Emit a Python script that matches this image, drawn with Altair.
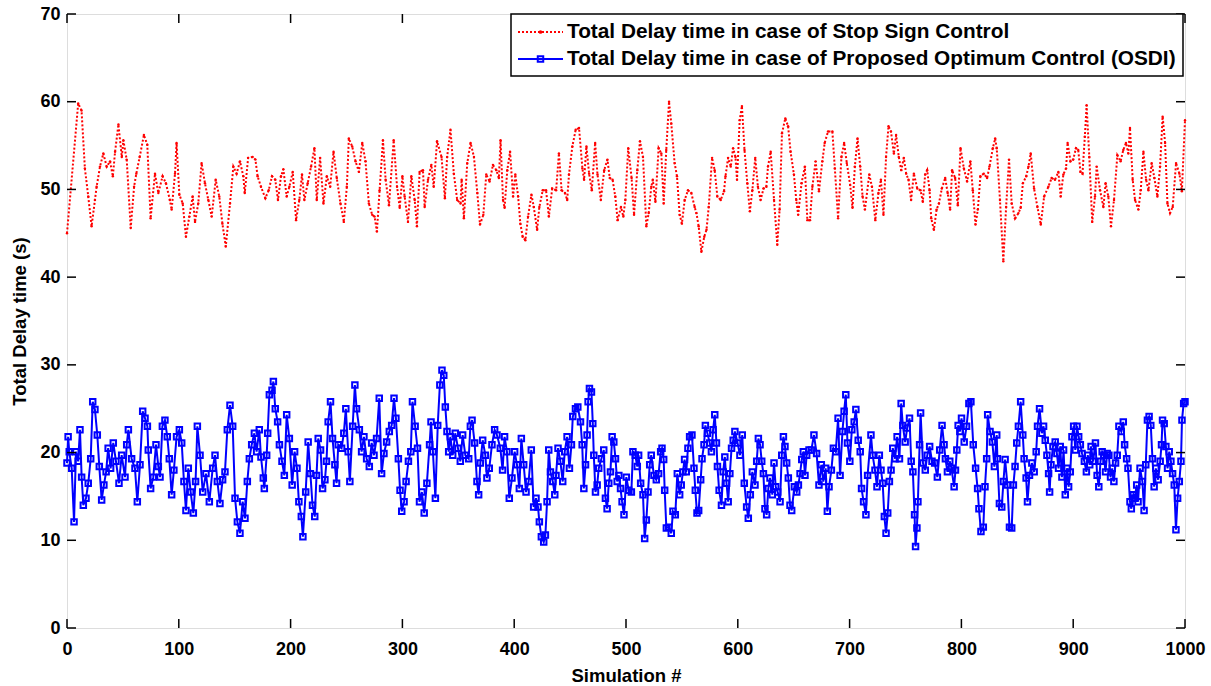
import altair as alt
import pandas as pd

# ---------------- data ----------------
red_points = [
(0,45.0),(10,59.8),(13,59.0),(16,52.4),(19,49.2),(22,45.8),(25,48.8),(26.5,50.3),(29.5,52.6),(32.5,54.1),(35.5,52.6),(38.5,53.2),(41,51.5),(43,54.3),(46,57.4),(49,53.7),(50.4,55.6),(53.4,53.4),(57,45.6),(60,50.3),(62,51.8),(65,53.7),(68.8,56.2),(71.8,55.1),(74.8,46.7),(78.7,51.8),(81.7,49.6),(85.5,51.5),(88.5,50.7),(92,48.8),(93.6,47.7),(96.6,51.8),(98,55.3),(100.5,49.4),(103.5,48.4),(106.4,44.6),(109.4,46.9),(112.4,49.2),(114.5,46.3),(117.4,48.4),(120.4,53.0),(123.4,50.7),(126.4,48.8),(129.4,46.9),(133,51.1),(136.2,49.2),(139,46.1),(142,43.5),(145.8,48.4),(148.8,52.6),(151.7,51.8),(154.7,53.2),(157.7,51.5),(159,49.6),(162,53.6),
(166,53.7),(168.5,53.4),(170.5,51.5),(173.5,50.3),(177.4,49.0),(180.4,49.9),(183.4,51.5),(186.3,51.1),(188.7,48.8),(191.4,51.5),(193.5,52.3),(196.5,49.2),(198.9,50.3),(201.9,52.0),(204.9,46.5),(207.8,48.8),(210.2,51.7),(212.3,48.8),(215.3,50.7),(218.3,52.6),(221.3,54.7),(223.4,48.8),(226.4,53.6),(229.4,48.4),(232.4,51.5),(235.4,50.3),(238.4,54.3),(241.3,51.3),(244.6,48.4),(247.6,46.3),(250.3,50.3),(252.1,55.8),(255.1,54.9),(258.1,53.2),(261.1,52.0),(264.1,55.3),(267,53.2),(270,48.4),(273,47.1),(275.1,46.9),(277.2,45.2),(279.6,49.9),(282.6,55.6),(285,51.1),(288,48.2),(292.2,55.6),(295.2,50.3),(297.6,47.9),(300,51.5),(302,49.2),(305,46.3),(308,51.5),(311,48.8),(313,45.8),(315.4,52.0),(318.4,52.2),(319.9,48.0),(322.9,51.1),(325.9,52.8),(328,50.3),(331,55.5),
(335,53.7),(338,49.0),(340,53.7),(343,56.8),(346,51.8),(349,48.8),(352,48.4),(353,51.1),(355,46.7),(358,53.0),(361,55.3),(364,53.7),(367,49.6),(369.4,46.0),(372.4,47.1),(375,51.7),(378,50.9),(381,52.8),(384,52.2),(386.3,51.3),(387.8,55.6),(390,48.8),(391.4,47.9),(393.8,52.2),(396.3,54.3),(399,49.2),(401,51.7),(403.5,49.2),(405.5,46.1),(407.6,44.6),(410,44.2),(412.4,46.9),(415.4,49.4),(417.5,48.0),(420.5,45.4),(422.5,48.0),(425.5,49.9),(428.5,49.9),(431,46.9),(434,50.1),(437.5,49.9),(440,54.1),(442.4,49.9),(445.4,49.6),(447.4,48.8),(449,51.7),(452,54.9),(455,56.8),(458,57.0),(461,52.4),(462.5,51.1),(464.6,54.9),(467,51.8),(469.4,49.9),(472.4,55.3),(474.5,51.7),(477.5,48.8),(480.5,52.2),(483.4,53.4),(485.5,51.3),(488,51.1),(490.4,49.2),(492.5,46.5),(495.5,48.0),(497.6,46.9),
(499.4,48.8),(502,54.7),(505,51.3),(507.2,47.1),(510.1,52.2),(512.5,55.5),(515.2,53.7),(518.2,45.8),(520.3,47.3),(522.6,50.3),(524,51.1),(526.3,48.6),(529.2,54.7),(531.6,54.1),(533.7,48.4),(536,54.5),(538.5,60.0),(540.5,57.5),(543.5,53.0),(545.6,51.5),(548,47.1),(550,46.1),(552.5,48.8),(555.4,49.9),(558.4,49.6),(561.4,48.0),(563,47.3),(565,45.8),(567.4,42.9),(570,44.6),(572,45.4),(574,48.0),(577,53.6),(579.3,52.2),(581.7,49.2),(584.7,48.8),(587.7,49.8),(589,51.5),(591.3,53.6),(593.7,52.6),(595.8,54.7),(597.9,53.7),(599.3,51.1),(601.7,57.9),(603.7,59.5),(606,54.5),(608.5,50.7),(610.8,47.5),(613,49.9),(615.6,53.6),(618,50.3),(620.4,48.8),(623,50.1),(625.5,50.3),(627,52.6),(629.4,54.3),(632.4,48.8),(635.3,43.7),(637.4,47.7),(639.5,56.4),(642.5,58.1),(645,57.2),(647.2,54.3),(650.2,51.7),(652.3,48.8),(654,47.1),(657,50.7),(660,52.6),(662.2,46.5),
(664.6,46.5),(666.7,50.3),(669.6,53.2),(672.6,49.8),(675.6,53.2),(677.7,55.3),(680.7,56.6),(684.6,56.6),(686.8,52.4),(689.7,46.7),(692.7,53.7),(695.1,55.3),(697.5,53.0),(700.5,50.5),(702.6,47.9),(704.7,52.6),(707.1,55.8),(709.5,52.6),(711.6,49.2),(713.7,47.7),(717.6,51.7),(720,50.3),(723,46.5),(725.8,49.6),(728,51.1),(730.3,47.1),(732.6,53.7),(734.8,57.2),(737,56.6),(739.6,54.1),(741.6,56.2),(744,53.7),(746.2,52.2),(748.5,53.6),(750.6,51.8),(752.7,51.1),(755,48.8),(757.5,51.8),(760.5,50.1),(763.4,49.9),(765.5,48.6),(767.6,51.7),(769.4,52.2),(771.5,49.9),(773,46.7),(775.4,45.4),(777.8,47.7),(779.9,48.4),(782.5,50.1),(785.5,51.3),(787.7,49.6),(789.9,47.7),(791.7,52.2),(794.4,51.3),(796.8,48.2),(799.2,54.7),(802.2,52.4),(805.1,50.9),(808,53.2),(810.2,49.9),(812.6,46.0),(814.7,47.7),(817,51.5),(820,51.8),(823,51.3),(825.1,52.6),(828.1,54.7),(830.2,55.8),
(831.6,54.7),(834.5,48.8),(837.5,41.8),(840,48.0),(842.6,53.4),(845,48.4),(848,46.7),(851,47.3),(853,47.9),(855,50.7),(858,51.5),(860,52.6),(862,54.1),(865,50.1),(868,48.0),(871,46.0),(874,49.2),(877.8,50.3),(880.7,51.3),(883.7,51.1),(886.7,52.0),(888.8,49.2),(891.2,51.7),(893.6,52.4),(895,55.3),(897.6,53.2),(900,53.4),(902.5,54.7),(904.5,54.5),(906.5,52.0),(908.3,51.8),(910.4,56.0),(912,59.6),(914.4,53.7),(917,46.3),(919.5,49.2),(921,52.6),(924,49.9),(927,48.0),(929,50.7),(931.4,49.2),(933.8,45.8),(936.5,48.8),(939.5,53.9),(942.4,53.2),(944.8,54.5),(947.2,55.3),(949.3,54.1),(950.8,57.0),(953.2,51.1),(955.3,48.8),(958.3,47.7),(960.4,49.9),(962.8,54.3),(965.2,51.1),(967.3,49.9),(970.2,53.0),(972.6,51.3),(975.3,49.2),(977.7,52.6),(980,58.3),(982.2,55.3),(984.3,48.4),(986.6,47.3),(989,48.0),(992,53.0),(995,51.8),(997.2,49.8),(1000,57.9),
]

blue_points = [
(0,18.8),(1,21.8),(2,20.1),(4.2,18.2),(6.3,12.1),(8,20.1),(10,19.0),(11.6,22.6),(13.1,17.2),(14.6,14.0),(17,14.8),(19,16.5),(21.2,19.3),(23,25.8),(25,24.9),(27.1,22.0),(28.9,18.4),(31,14.6),(33,16.3),(35,17.8),(36.8,20.5),(39,18.2),(41.4,21.1),(43.8,19.0),(46.5,16.5),(48.9,19.7),(51.9,17.2),(53.4,20.9),(54.9,22.6),(57.8,19.3),(60.8,18.2),(62.9,14.4),(65.3,18.6),(67.7,24.7),(69.8,23.9),(71.9,23.0),(72.7,20.3),(74.8,15.9),(77.2,17.2),(79.6,20.9),(81.7,18.4),(83.2,17.2),(85.3,23.0),(87.6,23.7),(89.7,21.8),(91.5,19.3),(93.6,15.2),(95.6,18.0),(98,21.8),(100.5,22.6),(102.6,21.1),(104.6,16.7),(106.4,13.4),(108.5,18.2),(110.6,15.5),(113,13.1),(115,16.7),(116.6,23.0),(119,19.7),(121.4,15.5),(124.3,17.6),(127.3,14.4),(130.3,18.2),(132.4,19.7),(134.5,16.7),(136.8,14.2),(139.2,16.9),(141.3,17.8),(143.4,22.6),(145.8,25.4),(148.2,23.0),(150.3,14.8),(152.4,12.1),(154.7,10.8),(157.1,14.4),(159.2,12.5),(161.3,16.7),(163.1,19.3),(165.2,20.9),
(167.6,22.2),(169.6,20.1),(172,22.6),(173.5,19.5),(175.6,17.1),(176.5,15.9),(178.6,19.7),(179.5,22.2),(181,26.6),(183.4,27.1),(184.6,28.1),(186.3,25.0),(188.4,23.5),(190,20.9),(192.3,19.0),(194.4,17.4),(196.5,24.3),(198.9,21.6),(201.4,16.3),(203.6,20.1),(205.7,18.2),(207.4,14.4),(209.6,12.7),(211,10.4),(213.5,15.5),(215.7,21.2),(217.7,17.6),(219.6,14.0),(221.6,12.7),(223.2,17.4),(224.7,21.6),(226.8,20.3),(228.6,15.9),(230.7,16.9),(232.1,19.0),(233.6,23.5),(235.7,25.8),(237.5,21.6),(239.6,18.6),(241.1,16.5),(242.6,20.9),(245.6,20.5),(247.6,22.2),(249.4,25.0),(251.5,20.1),(253,16.7),(255.5,23.0),(257.5,27.7),(259,25.0),(261.5,22.6),(263.5,20.1),(265.6,21.8),(268,19.3),(270.4,18.4),(272.5,21.1),(274.6,19.7),(276.9,21.6),(279.3,26.2),(281.4,17.6),(283.5,19.9),(285.9,21.2),(288.3,22.4),(290.4,23.1),(292.5,26.2),(294.2,23.9),(296.4,19.3),(297.9,15.7),(299.4,13.3),(301.5,14.4),(303.3,16.7),(305.4,19.0),(307.5,20.1),(309,25.8),(311.4,23.0),(313.5,20.5),(315.3,14.4),(317.4,15.5),(319.5,13.1),(321.9,16.5),(324.3,20.9),(325.6,23.5),(327.3,20.1),(329.5,14.8),(331.6,23.1),
(333.5,27.7),(335.4,29.4),(337,28.8),(338.4,25.2),(339.9,22.4),(341.4,20.1),(342.9,21.8),(345,19.7),(347.3,22.2),(349.7,20.5),(351.8,19.0),(353.9,22.0),(356.3,19.7),(359.3,19.3),(360.8,23.0),(362.3,23.7),(364.6,21.1),(366.7,16.7),(368.2,15.2),(369.7,18.8),(371.8,21.4),(374.2,19.7),(375.6,17.1),(377.7,18.2),(380.1,20.9),(382.5,22.6),(384.6,22.0),(387.6,20.5),(389.6,18.0),(391.4,21.8),(393.5,20.1),(395.6,14.8),(398,17.1),(400.4,20.1),(402.5,18.6),(404.6,15.9),(406.4,21.6),(408.5,18.6),(410.6,15.5),(412.9,16.7),(415.3,20.3),(417.4,13.8),(419.5,14.8),(421.3,13.8),(422.5,12.1),(424.3,10.4),(426.4,9.8),(427.9,10.6),(429.4,14.4),(430.9,20.3),(432.4,17.8),(434.5,16.7),(436.3,15.2),(437.4,17.4),(439.2,20.5),(441.3,19.0),(443.4,16.7),(445.2,20.1),(447.3,21.8),(449.4,18.2),(451.2,20.9),(452.4,24.1),(454.8,25.0),(456.9,25.2),(459.3,23.5),(460.8,20.9),(462.3,15.9),(463.8,18.6),(465.2,22.0),(466.1,25.8),(467.3,27.3),(469.1,26.9),(470.3,23.3),(471.2,19.7),(472.7,15.5),(474.2,16.3),(475.6,18.2),(478,19.3),(480.1,20.3),(481.6,14.8),(483.1,13.6),(484.6,16.5),(486.1,17.8),(487.6,21.8),(489.1,21.2),(490.6,19.3),(492.1,16.7),(493.6,17.4),(495.1,15.9),(496.5,14.4),(498.2,12.9),
(500.3,17.2),(502.4,15.7),(504.8,15.5),(506.2,20.1),(508.3,19.7),(510.1,18.4),(511.3,19.7),(513.1,16.5),(515.2,15.2),(516.7,10.2),(518.2,12.3),(519.7,15.5),(521.2,18.6),(522.6,19.7),(525,17.4),(527.1,16.9),(529.2,17.6),(531,20.1),(532.2,20.5),(533.7,19.2),(534.6,15.7),(536.1,11.4),(538.2,11.5),(540.5,10.8),(542,13.3),(544.1,12.9),(545.9,17.6),(548,15.2),(549.4,16.3),(550.9,17.8),(552.4,19.2),(553.9,17.8),(555.4,20.5),(556.9,21.8),(559,22.0),(560.8,18.2),(562,15.7),(563.5,13.1),(565,13.4),(566.8,16.9),(568,19.3),(569.8,20.9),(571,23.1),(572.8,22.2),(574.9,21.1),(576.4,20.1),(577.9,22.6),(579.4,24.3),(580.9,21.1),(581.8,18.4),(583.3,15.7),(585.4,14.0),(586.9,17.8),(588.4,19.5),(589.9,16.5),(591.4,14.4),(592.9,17.6),(594.4,20.5),(595.9,21.4),(597.4,22.4),(599.8,21.1),(601.9,19.7),(604,22.0),(605.8,16.5),(607.9,13.8),(609.4,12.5),(611.2,15.2),(613,17.8),(615.4,16.3),(616.9,19.0),(618.4,21.6),(619.9,20.9),(621.4,19.0),(622.9,17.6),(624.3,13.6),(625.8,12.9),(627.3,15.9),(628.8,17.1),(630.9,15.2),(632.4,18.8),(633.9,16.1),(635.7,15.5),(637.8,14.4),(639.3,19.7),(640.8,21.8),(642.2,20.7),(643.7,18.8),(645.2,17.1),(646.7,14.0),(648.2,13.4),(650.6,16.1),(652.7,15.5),(654.2,16.3),(655.7,17.6),(657.2,19.2),(658.6,20.1),(660.1,17.4),(661.6,19.7),(663.7,20.3),
(665.8,20.3),(668.1,22.0),(670.5,19.9),(672.6,16.3),(674.7,18.6),(676.5,16.7),(678.6,18.2),(680.1,13.3),(681.6,16.1),(683.7,18.0),(685.5,20.5),(687.6,20.1),(689.7,23.9),(691.5,17.4),(693.6,22.4),(695.1,24.7),(696.6,26.6),(698.1,21.1),(700.2,19.0),(702,22.6),(704.1,23.5),(705.6,24.9),(707.7,21.4),(709.5,20.1),(710.7,15.9),(712.5,14.4),(714.6,12.9),(716.1,17.4),(719.1,22.0),(720.6,19.7),(722.7,18.0),(724.5,16.1),(726.6,19.7),(728.1,18.0),(729.6,16.5),(731.1,12.7),(732.6,10.8),(734.1,13.1),(735.6,16.7),(737.1,18.0),(738.6,20.5),(740.7,19.3),(742.5,21.8),(744.6,19.3),(746.1,25.6),(747.6,23.1),(749.7,21.2),(751.5,22.8),(753.6,23.9),(755.1,19.0),(756.6,17.8),(758.1,12.9),(759,9.3),(760.2,11.4),(761.1,14.4),(762.6,20.9),(763.5,24.5),(765.6,18.8),(767.7,18.0),(769.5,19.7),(771.6,20.7),(773.7,19.0),(776.1,18.8),(778.5,17.2),(780.6,20.3),(782.7,23.1),(784.5,20.9),(785.7,19.3),(787.5,17.8),(789.6,19.0),(791.1,18.2),(793.5,16.1),(794.7,18.0),(795.9,20.3),(797.1,23.1),(798.6,22.4),(800.1,23.9),(802.5,21.2),(804.6,23.0),(806.7,25.6),(808.5,25.8),(810.6,20.9),(812.7,18.2),(814.5,15.9),(815.7,13.6),(817.5,11.0),(819.6,11.5),(821.1,16.1),(822.6,19.3),(823.5,24.3),(825.6,22.4),(827.7,21.2),(829.5,18.4),(831.6,22.0),
(832.2,19.3),(834,14.2),(836.1,13.8),(837.6,16.7),(839.1,19.2),(841.2,16.3),(843,11.5),(845,11.4),(846.5,16.3),(848,18.4),(849.5,21.1),(851,23.0),(853,25.8),(854.9,22.0),(856.1,19.3),(857.9,17.1),(859.1,14.4),(860.9,17.4),(863,18.8),(865.1,17.8),(866.9,20.1),(868.1,23.0),(869.9,25.0),(872,22.2),(873.5,23.0),(875,21.4),(876.5,19.7),(878,17.6),(878.9,15.5),(880.1,18.6),(881.9,20.7),(883.9,21.2),(885.4,19.9),(886.9,18.2),(888.4,20.7),(889.9,17.2),(891.4,20.3),(892.9,15.2),(894.4,18.2),(895.9,16.1),(897.4,17.8),(898.9,21.8),(900.4,23.0),(901.9,20.3),(903.4,23.0),(904.9,21.8),(906.4,20.9),(907.9,19.9),(910,19.0),(911.8,17.8),(913,19.7),(914.8,18.6),(916,20.7),(917.8,19.0),(919.9,21.1),(921.4,17.4),(922.9,16.1),(924.4,19.0),(925.9,20.1),(927.4,19.7),(928.9,17.8),(930.4,19.9),(931.9,19.7),(933.4,17.2),(934.9,18.2),(936.4,16.7),(937.9,18.8),(939.4,19.7),(940.9,23.0),(943,22.4),(944.8,23.5),(946,20.9),(947.8,19.3),(949,18.2),(950.8,14.4),(952,13.6),(953.8,15.2),(955,14.8),(956.8,16.3),(958,14.4),(959.8,18.2),(961.9,16.7),(963.4,13.4),(964.9,18.6),(966.4,23.7),(967.9,24.1),(969.4,23.1),(970.9,19.3),(972.4,16.1),(973.9,18.2),(976,16.9),(977.8,19.0),(979,20.9),(979.9,23.7),(981.4,23.3),(982.9,20.7),(984.4,18.2),(985.9,20.1),(987.4,19.0),(988.9,17.6),(990.4,16.3),(991.9,11.2),(993.4,14.8),(994.9,16.7),(996.4,19.0),(997.3,23.7),(998.8,25.6),(1000,25.8),
]

x_ticks = list(range(0, 1001, 100))
y_ticks = list(range(0, 71, 10))
legend_labels = [
    "Total Delay time in case of Stop Sign Control",
    "Total Delay time in case of Proposed Optimum Control (OSDI)",
]
x_title = "Simulation #"
y_title = "Total Delay time (s)"

# ---------------- chart ----------------
W, H = 1118, 614
FONT = "Liberation Sans"
RED = "#ff0000"
BLUE = "#0000ff"

red = pd.DataFrame(red_points, columns=["sim", "delay"])
blue = pd.DataFrame(blue_points, columns=["sim", "delay"])
xt = pd.DataFrame({"sim": x_ticks})
yt = pd.DataFrame({"delay": y_ticks})
one = pd.DataFrame({"k": [0]})

xs = alt.Scale(domain=[0, 1000], nice=False, zero=False)
ys = alt.Scale(domain=[0, 70], nice=False, zero=False)

x_axis = alt.Axis(values=x_ticks, format="d", ticks=False, domain=False, grid=False,
                  labelFont=FONT, labelFontSize=18, labelFontWeight="bold",
                  labelColor="black", labelPadding=12, labelFlush=False,
                  titleFont=FONT, titleFontSize=18.5,
                  titleFontWeight="bold", titleColor="black", titlePadding=8)
y_axis = alt.Axis(values=y_ticks, format="d", ticks=False, domain=False, grid=False,
                  labelFont=FONT, labelFontSize=18, labelFontWeight="bold",
                  labelColor="black", labelPadding=7, labelFlush=False,
                  titleFont=FONT, titleFontSize=18.5,
                  titleFontWeight="bold", titleColor="black", titlePadding=10)

X = alt.X("sim:Q", scale=xs, axis=x_axis, title=x_title)
Y = alt.Y("delay:Q", scale=ys, axis=y_axis, title=y_title)

red_line = alt.Chart(red).mark_line(color=RED, strokeWidth=2, strokeDash=[2, 2]).encode(x=X, y=Y)
red_pts = alt.Chart(red).mark_point(color=RED, filled=True, size=6, opacity=1).encode(x=X, y=Y)
blue_line = alt.Chart(blue).mark_line(color=BLUE, strokeWidth=2).encode(x=X, y=Y)
blue_pts = alt.Chart(blue).mark_point(color=BLUE, shape="square", filled=False,
                                      size=30, strokeWidth=2, opacity=1).encode(x=X, y=Y)

TK = 9
ytick_l = alt.Chart(yt).mark_rule(color="black", strokeWidth=1.5).encode(
    y=Y, x=alt.value(0), x2=alt.value(TK))
ytick_r = alt.Chart(yt).mark_rule(color="black", strokeWidth=1.5).encode(
    y=Y, x=alt.value(W), x2=alt.value(W - TK))
xtick_b = alt.Chart(xt).mark_rule(color="black", strokeWidth=1.5).encode(
    x=X, y=alt.value(H), y2=alt.value(H - TK))
xtick_t = alt.Chart(xt).mark_rule(color="black", strokeWidth=1.5).encode(
    x=X, y=alt.value(0), y2=alt.value(TK))

# legend box (inside top-right of the plot)
LX0, LX1, LY0, LY1 = 444, 1116, 0, 62
ROW1, ROW2 = 18, 45
SYM0, SYM1, TXT = 451, 496, 500
LFS = 20.8
leg_box = alt.Chart(one).mark_rect(fill="white", stroke="black", strokeWidth=1.5).encode(
    x=alt.value(LX0), x2=alt.value(LX1), y=alt.value(LY0), y2=alt.value(LY1))
leg_red_line = alt.Chart(one).mark_rule(color=RED, strokeWidth=2, strokeDash=[2, 2]).encode(
    x=alt.value(SYM0), x2=alt.value(SYM1), y=alt.value(ROW1))
leg_red_pt = alt.Chart(one).mark_point(color=RED, filled=True, size=14, opacity=1).encode(
    x=alt.value((SYM0 + SYM1) / 2), y=alt.value(ROW1))
leg_blue_line = alt.Chart(one).mark_rule(color=BLUE, strokeWidth=2).encode(
    x=alt.value(SYM0), x2=alt.value(SYM1), y=alt.value(ROW2))
leg_blue_pt = alt.Chart(one).mark_point(color=BLUE, shape="square", filled=False,
                                        size=30, strokeWidth=2, opacity=1).encode(
    x=alt.value((SYM0 + SYM1) / 2), y=alt.value(ROW2))
leg_txt1 = alt.Chart(one).mark_text(align="left", baseline="middle", font=FONT,
                                    fontSize=LFS, fontWeight="bold", color="black").encode(
    x=alt.value(TXT), y=alt.value(ROW1), text=alt.value(legend_labels[0]))
leg_txt2 = alt.Chart(one).mark_text(align="left", baseline="middle", font=FONT,
                                    fontSize=LFS, fontWeight="bold", color="black").encode(
    x=alt.value(TXT), y=alt.value(ROW2), text=alt.value(legend_labels[1]))

chart = alt.layer(
    red_line, red_pts, blue_line, blue_pts,
    ytick_l, ytick_r, xtick_b, xtick_t,
    leg_box, leg_red_line, leg_red_pt, leg_blue_line, leg_blue_pt, leg_txt1, leg_txt2,
).properties(
    width=W, height=H,
    autosize=alt.AutoSizeParams(type="none"),
    padding={"left": 67, "top": 14, "right": 26, "bottom": 58},
).configure_view(
    stroke="black", strokeWidth=2, fill="white"
).configure(background="white")

chart.save("out.html", embed_options={"renderer": "svg", "actions": False})
